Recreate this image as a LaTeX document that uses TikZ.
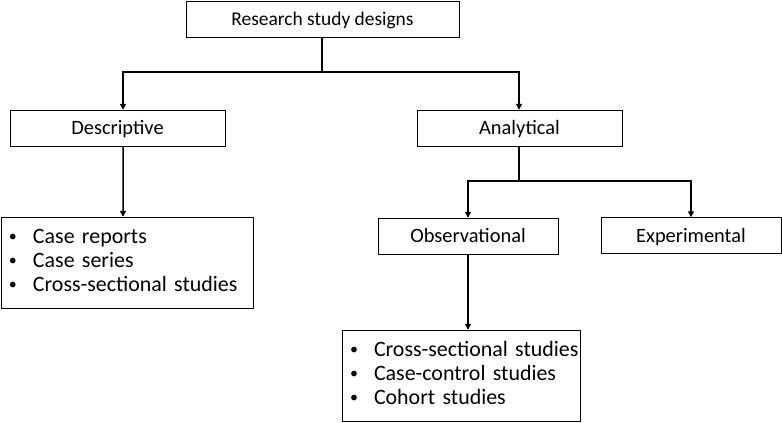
\documentclass[tikz,border=0pt]{standalone}
\usepackage{fontspec}
\setmainfont{Carlito}
\usetikzlibrary{arrows.meta}
\tikzset{
 box/.style={draw,thin,minimum height=36bp,inner sep=0pt,text height=15bp,text depth=2bp,font=\fontsize{20.5}{23}\selectfont},
 listbox/.style={draw,thin,align=left,inner xsep=8bp,inner ysep=0pt,font=\fontsize{22}{24}\selectfont},
 conn/.style={line width=1.5bp,-{Triangle[length=6bp,width=6bp]}}
}
\newcommand{\blt}{{\fontsize{16}{16}\selectfont\raisebox{1.5bp}{\textbullet}}}
\newcommand{\itmlist}[3]{\begin{tabular}{@{}p{24bp}@{}l@{}}\blt & #1\\ \blt & #2\\ \blt & #3\end{tabular}}
\begin{document}
\begin{tikzpicture}[x=1bp,y=-1bp]
 \useasboundingbox (0,0) rectangle (782,422);
 \node[box,minimum width=273bp,font=\fontsize{19.5}{23}\selectfont] (top) at (322.5,19) {Research study designs};
 \node[box,minimum width=215bp] (desc) at (117.5,128) {Descriptive};
 \node[box,minimum width=205bp] (anal) at (519.5,128) {Analytical};
 \node[box,minimum width=180bp] (obs) at (468,236) {Observational};
 \node[box,minimum width=180bp] (exp) at (691,235.5) {Experimental};
 \node[listbox,minimum width=252bp,minimum height=91bp,text width=236bp] (desclist) at (127,262.5)
  {\itmlist{Case reports}{Case series}{Cross-sectional studies}};
 \node[listbox,minimum width=238bp,minimum height=91bp,text width=222bp] (obslist) at (461,375.5)
  {\itmlist{Cross-sectional studies}{Case-control studies}{Cohort studies}};
 % tree connectors
 \coordinate (j1) at (322,72);
 \coordinate (j2) at (519,181);
 \draw[conn] (top.south -| j1) -- (j1) -| ([xshift=5.5bp]desc.north);
 \draw[conn] (j1) -| (anal.north -| j2);
 \draw[conn] ([xshift=5.5bp]desc.south) -- ([xshift=-4bp]desclist.north);
 \draw[conn] (anal.south -| j2) -- (j2) -| (obs.north);
 \draw[conn] (j2) -| (exp.north);
 \draw[conn] (obs.south) -- (obslist.north -| obs.south);
\end{tikzpicture}
\end{document}
